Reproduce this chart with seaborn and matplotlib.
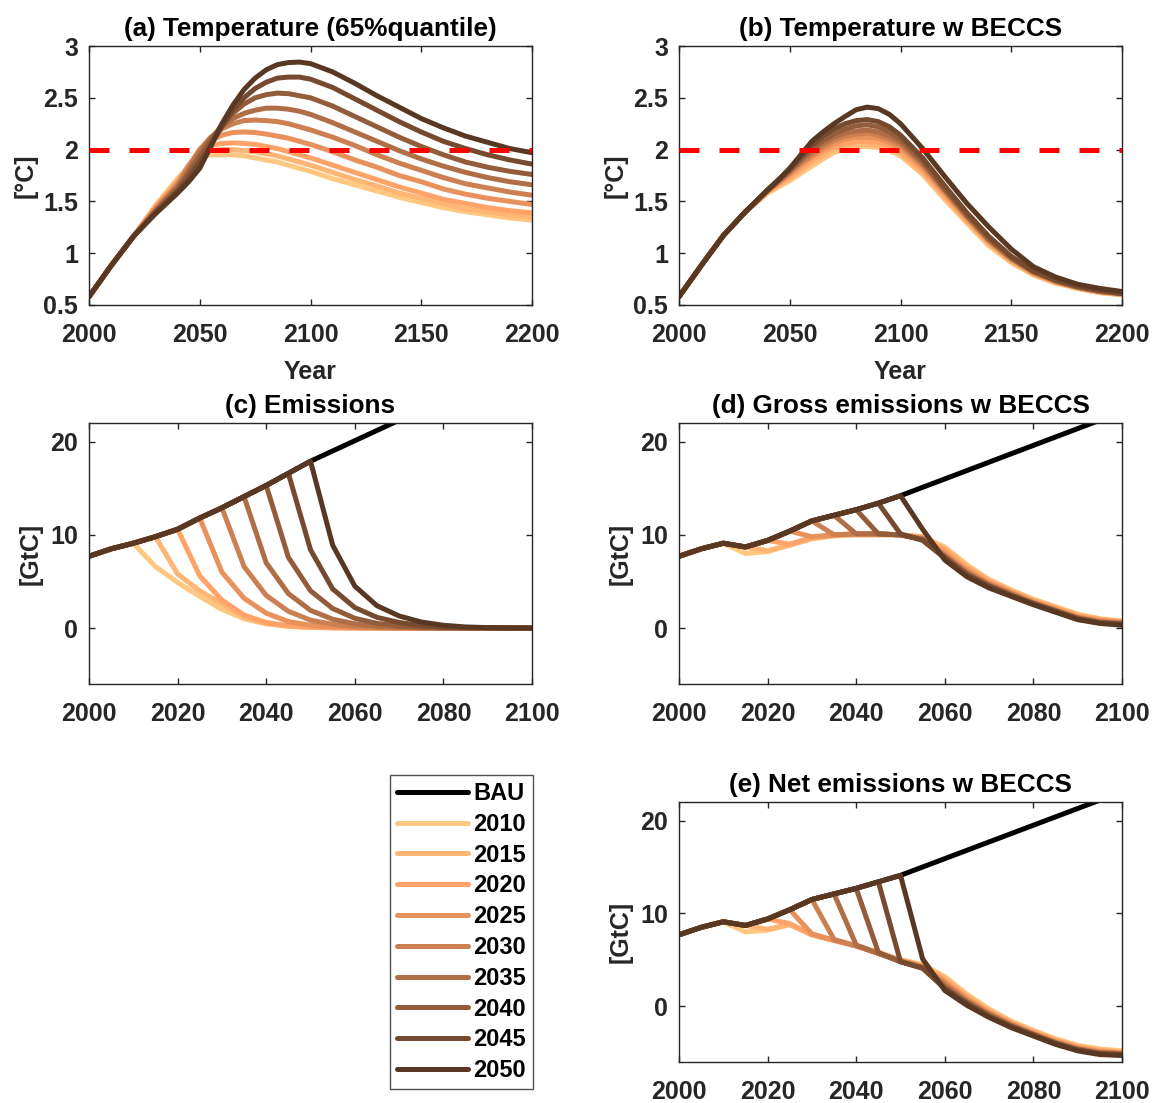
import numpy as np
import pandas as pd
import matplotlib
matplotlib.use("Agg")
import matplotlib.pyplot as plt
from matplotlib.lines import Line2D
import seaborn as sns

# ---------------- data ----------------
scenarios = ["2010", "2015", "2020", "2025", "2030", "2035", "2040", "2045", "2050"]
colors = ["#FFC77F", "#FFB573", "#FFA368", "#E9915D", "#CC8051",
          "#AF6E46", "#935C3A", "#764A2F", "#593823"]

years_T = [2000, 2010, 2020, 2030, 2040, 2045, 2050, 2055, 2060, 2065, 2070, 2075,
           2080, 2085, 2090, 2095, 2100, 2110, 2120, 2130, 2140, 2150, 2160, 2170,
           2180, 2190, 2200]

# (a) Temperature (65% quantile)
temp_a = {
    "2010": [0.58, 0.88, 1.16, 1.46, 1.72, 1.84, 1.93, 1.95, 1.95, 1.95, 1.94, 1.92, 1.90, 1.88, 1.85, 1.82, 1.79, 1.72, 1.66, 1.60, 1.54, 1.49, 1.44, 1.40, 1.37, 1.34, 1.32],
    "2015": [0.58, 0.88, 1.16, 1.45, 1.70, 1.84, 1.95, 1.99, 2.00, 2.00, 1.99, 1.98, 1.96, 1.94, 1.91, 1.88, 1.85, 1.78, 1.71, 1.65, 1.58, 1.53, 1.48, 1.43, 1.40, 1.37, 1.35],
    "2020": [0.58, 0.88, 1.16, 1.44, 1.69, 1.85, 1.98, 2.04, 2.06, 2.065, 2.06, 2.05, 2.03, 2.01, 1.98, 1.95, 1.92, 1.85, 1.78, 1.71, 1.64, 1.58, 1.52, 1.48, 1.44, 1.41, 1.39],
    "2025": [0.58, 0.88, 1.16, 1.43, 1.67, 1.84, 2.00, 2.09, 2.14, 2.165, 2.17, 2.165, 2.15, 2.13, 2.11, 2.08, 2.05, 1.98, 1.90, 1.83, 1.75, 1.69, 1.62, 1.57, 1.53, 1.50, 1.47],
    "2030": [0.58, 0.88, 1.16, 1.42, 1.66, 1.83, 2.00, 2.12, 2.20, 2.25, 2.28, 2.285, 2.28, 2.27, 2.25, 2.22, 2.19, 2.12, 2.04, 1.95, 1.87, 1.80, 1.73, 1.67, 1.63, 1.59, 1.56],
    "2035": [0.58, 0.88, 1.16, 1.41, 1.64, 1.80, 1.97, 2.11, 2.22, 2.30, 2.35, 2.38, 2.40, 2.40, 2.39, 2.37, 2.34, 2.26, 2.17, 2.08, 1.99, 1.91, 1.84, 1.78, 1.73, 1.69, 1.66],
    "2040": [0.58, 0.88, 1.16, 1.40, 1.62, 1.77, 1.93, 2.09, 2.24, 2.35, 2.44, 2.50, 2.53, 2.545, 2.54, 2.52, 2.50, 2.42, 2.32, 2.22, 2.12, 2.03, 1.95, 1.88, 1.83, 1.79, 1.76],
    "2045": [0.58, 0.88, 1.16, 1.39, 1.60, 1.73, 1.88, 2.05, 2.22, 2.38, 2.50, 2.59, 2.65, 2.69, 2.70, 2.70, 2.68, 2.60, 2.49, 2.38, 2.27, 2.17, 2.08, 2.01, 1.95, 1.90, 1.86],
    "2050": [0.58, 0.88, 1.16, 1.38, 1.58, 1.69, 1.82, 2.03, 2.25, 2.43, 2.58, 2.69, 2.77, 2.82, 2.84, 2.845, 2.83, 2.75, 2.64, 2.52, 2.41, 2.30, 2.21, 2.13, 2.07, 2.01, 1.97],
}

# (b) Temperature with BECCS
temp_b = {
    "2010": [0.58, 0.88, 1.17, 1.40, 1.58, 1.64, 1.70, 1.77, 1.84, 1.91, 1.97, 2.01, 2.03, 2.03, 2.02, 1.99, 1.94, 1.76, 1.52, 1.29, 1.07, 0.91, 0.79, 0.71, 0.66, 0.62, 0.60],
    "2015": [0.58, 0.88, 1.17, 1.40, 1.59, 1.66, 1.72, 1.80, 1.87, 1.94, 2.00, 2.04, 2.05, 2.05, 2.04, 2.01, 1.96, 1.78, 1.54, 1.31, 1.09, 0.92, 0.80, 0.72, 0.66, 0.62, 0.60],
    "2020": [0.58, 0.88, 1.17, 1.40, 1.59, 1.67, 1.74, 1.82, 1.90, 1.97, 2.03, 2.06, 2.08, 2.08, 2.07, 2.04, 1.99, 1.80, 1.56, 1.32, 1.10, 0.93, 0.80, 0.72, 0.67, 0.63, 0.60],
    "2025": [0.58, 0.88, 1.17, 1.40, 1.60, 1.68, 1.76, 1.85, 1.93, 2.00, 2.06, 2.10, 2.12, 2.12, 2.11, 2.07, 2.02, 1.83, 1.58, 1.34, 1.11, 0.94, 0.81, 0.73, 0.67, 0.63, 0.61],
    "2030": [0.58, 0.88, 1.17, 1.40, 1.60, 1.69, 1.78, 1.87, 1.95, 2.03, 2.09, 2.13, 2.15, 2.16, 2.14, 2.10, 2.05, 1.85, 1.60, 1.35, 1.12, 0.95, 0.82, 0.73, 0.67, 0.63, 0.61],
    "2035": [0.58, 0.88, 1.17, 1.40, 1.61, 1.70, 1.79, 1.89, 1.98, 2.06, 2.12, 2.16, 2.18, 2.19, 2.17, 2.13, 2.07, 1.87, 1.61, 1.36, 1.13, 0.95, 0.82, 0.73, 0.67, 0.63, 0.61],
    "2040": [0.58, 0.88, 1.17, 1.40, 1.61, 1.70, 1.80, 1.91, 2.01, 2.09, 2.15, 2.20, 2.23, 2.24, 2.22, 2.17, 2.10, 1.89, 1.62, 1.37, 1.14, 0.96, 0.82, 0.74, 0.68, 0.64, 0.61],
    "2045": [0.58, 0.88, 1.17, 1.40, 1.61, 1.71, 1.81, 1.93, 2.04, 2.13, 2.20, 2.25, 2.28, 2.29, 2.27, 2.22, 2.14, 1.92, 1.65, 1.39, 1.16, 0.97, 0.83, 0.74, 0.68, 0.64, 0.61],
    "2050": [0.58, 0.88, 1.17, 1.40, 1.61, 1.71, 1.82, 1.95, 2.08, 2.17, 2.25, 2.32, 2.385, 2.41, 2.395, 2.34, 2.25, 2.01, 1.74, 1.48, 1.25, 1.04, 0.87, 0.77, 0.70, 0.66, 0.63],
}

years_E = list(range(2000, 2101, 5))

# (c) Emissions: common trunk (2000-2050), BAU continuation, scenario branches
trunk_c = [7.7, 8.5, 9.1, 9.8, 10.6, 11.8, 12.9, 14.1, 15.3, 16.6, 17.9]
bau_c_tail = [19.0, 20.1, 21.2, 22.3, 23.4, 24.5, 25.6, 26.7, 27.8, 28.9]
branch_c = {
    "2010": [6.6, 4.9, 3.4, 2.0, 1.0, 0.45, 0.2, 0.08, 0.03, 0.01, 0, 0, 0, 0, 0, 0, 0, 0],
    "2015": [5.8, 4.0, 2.6, 1.2, 0.5, 0.2, 0.08, 0.03, 0.01, 0, 0, 0, 0, 0, 0, 0, 0],
    "2020": [5.6, 3.0, 1.4, 0.6, 0.25, 0.1, 0.04, 0.01, 0, 0, 0, 0, 0, 0, 0, 0],
    "2025": [6.0, 3.2, 1.6, 0.7, 0.3, 0.12, 0.05, 0.02, 0, 0, 0, 0, 0, 0, 0],
    "2030": [6.6, 3.5, 1.8, 0.85, 0.4, 0.16, 0.06, 0.02, 0, 0, 0, 0, 0, 0],
    "2035": [7.0, 3.7, 1.9, 0.95, 0.45, 0.2, 0.08, 0.03, 0.01, 0, 0, 0, 0],
    "2040": [7.6, 4.0, 2.1, 1.05, 0.5, 0.22, 0.09, 0.03, 0.01, 0, 0, 0],
    "2045": [8.4, 4.2, 2.2, 1.15, 0.6, 0.27, 0.11, 0.04, 0.01, 0, 0],
    "2050": [8.9, 4.5, 2.4, 1.3, 0.65, 0.3, 0.12, 0.05, 0.02, 0],
}

# (d) Gross emissions with BECCS
trunk_d = [7.7, 8.5, 9.1, 8.7, 9.4, 10.4, 11.5, 12.1, 12.7, 13.4, 14.2]
bau_d_tail = [15.1, 16.0, 16.9, 17.8, 18.7, 19.6, 20.5, 21.4, 22.3, 23.2]
branch_d = {
    "2010": [8.0, 8.2, 8.9, 9.6, 9.9, 10.0, 10.0, 10.0, 9.8, 8.7, 6.8, 5.2, 4.1, 3.1, 2.3, 1.5, 1.0, 0.75],
    "2015": [8.3, 8.9, 9.6, 9.9, 10.0, 10.0, 10.0, 9.8, 8.5, 6.6, 5.1, 4.0, 3.0, 2.2, 1.4, 0.95, 0.7],
    "2020": [9.0, 9.7, 10.0, 10.1, 10.1, 10.0, 9.7, 8.3, 6.4, 5.0, 3.9, 2.9, 2.1, 1.3, 0.9, 0.65],
    "2025": [9.8, 10.0, 10.1, 10.1, 10.0, 9.6, 8.0, 6.2, 4.8, 3.8, 2.8, 2.0, 1.2, 0.8, 0.6],
    "2030": [10.0, 10.1, 10.1, 10.0, 9.6, 7.8, 6.0, 4.7, 3.7, 2.7, 1.9, 1.1, 0.7, 0.55],
    "2035": [10.1, 10.1, 10.0, 9.5, 7.7, 5.9, 4.6, 3.6, 2.7, 1.9, 1.1, 0.65, 0.5],
    "2040": [10.1, 10.0, 9.5, 7.6, 5.8, 4.5, 3.5, 2.6, 1.8, 1.0, 0.6, 0.45],
    "2045": [10.1, 9.4, 7.5, 5.7, 4.5, 3.5, 2.6, 1.8, 1.0, 0.55, 0.4],
    "2050": [10.6, 7.3, 5.5, 4.3, 3.4, 2.5, 1.7, 0.9, 0.5, 0.3],
}

# (e) Net emissions with BECCS
trunk_e = [7.7, 8.5, 9.1, 8.7, 9.4, 10.4, 11.5, 12.1, 12.7, 13.4, 14.1]
bau_e_tail = [15.0, 15.9, 16.8, 17.7, 18.6, 19.5, 20.4, 21.3, 22.2, 23.1]
branch_e = {
    "2010": [8.0, 8.2, 8.8, 7.7, 7.1, 6.5, 5.8, 5.0, 4.5, 3.2, 1.3, -0.3, -1.6, -2.6, -3.5, -4.2, -4.6, -4.8],
    "2015": [8.3, 8.8, 7.7, 7.1, 6.5, 5.8, 5.0, 4.4, 3.0, 1.1, -0.4, -1.7, -2.7, -3.6, -4.3, -4.7, -4.9],
    "2020": [8.9, 7.7, 7.1, 6.5, 5.7, 4.9, 4.3, 2.8, 0.9, -0.6, -1.8, -2.8, -3.7, -4.4, -4.8, -5.0],
    "2025": [7.8, 7.1, 6.5, 5.7, 4.9, 4.3, 2.6, 0.8, -0.7, -1.9, -2.9, -3.8, -4.5, -4.9, -5.0],
    "2030": [7.2, 6.5, 5.7, 4.9, 4.2, 2.4, 0.6, -0.8, -2.0, -3.0, -3.9, -4.6, -5.0, -5.1],
    "2035": [6.6, 5.7, 4.8, 4.2, 2.2, 0.5, -0.9, -2.1, -3.0, -3.9, -4.6, -5.0, -5.1],
    "2040": [5.8, 4.8, 4.1, 2.0, 0.4, -1.0, -2.1, -3.1, -4.0, -4.7, -5.1, -5.2],
    "2045": [4.8, 4.1, 1.9, 0.3, -1.1, -2.2, -3.1, -4.0, -4.7, -5.1, -5.2],
    "2050": [5.1, 1.7, 0.1, -1.2, -2.3, -3.2, -4.1, -4.8, -5.2, -5.3],
}

titles = ["(a) Temperature (65%quantile)", "(b) Temperature w BECCS",
          "(c) Emissions", "(d) Gross emissions w BECCS", "(e) Net emissions w BECCS"]

# ---------------- style ----------------
sns.set_style("ticks")
plt.rcParams.update({
    "font.family": ["Liberation Sans", "DejaVu Sans"],
    "font.weight": "bold",
    "axes.labelweight": "bold",
    "axes.titleweight": "bold",
    "xtick.direction": "in",
    "ytick.direction": "in",
    "xtick.top": True,
    "ytick.right": True,
    "axes.edgecolor": "#262626",
    "xtick.color": "#262626",
    "ytick.color": "#262626",
})

W, H = 1153, 1103
fig = plt.figure(figsize=(W / 100, H / 100), dpi=100)


def add_ax(l, t, r, b):
    return fig.add_axes([l / W, 1 - b / H, (r - l) / W, (b - t) / H])


ax_a = add_ax(89, 46, 532, 305)
ax_b = add_ax(679, 46, 1122, 305)
ax_c = add_ax(89, 423, 532, 684)
ax_d = add_ax(679, 423, 1122, 684)
ax_e = add_ax(679, 802, 1122, 1062)

LW = 3.6
FS = 18
TFS = 18.8


def long_temp(d):
    rows = []
    for s in scenarios:
        for y, v in zip(years_T, d[s]):
            rows.append((y, v, s))
    return pd.DataFrame(rows, columns=["year", "value", "scenario"])


def long_emis(trunk, branches):
    rows = []
    for k, s in enumerate(scenarios):
        cut = 2 + k  # index of the cutoff year in years_E
        vals = trunk[:cut + 1] + branches[s]
        for y, v in zip(years_E, vals):
            rows.append((y, v, s))
    return pd.DataFrame(rows, columns=["year", "value", "scenario"])


def style_ax(ax, title):
    ax.set_title(title, fontsize=TFS, fontweight="bold", pad=7, color="black")
    for sp in ax.spines.values():
        sp.set_visible(True)
        sp.set_linewidth(1.0)
        sp.set_color("#262626")
    ax.tick_params(axis="both", labelsize=FS, length=4, width=1.0)
    ax.tick_params(axis="x", pad=13)
    ax.tick_params(axis="y", pad=8)
    for lab in ax.get_xticklabels() + ax.get_yticklabels():
        lab.set_fontweight("bold")


# temperature panels
for ax, d, t in [(ax_a, temp_a, titles[0]), (ax_b, temp_b, titles[1])]:
    df = long_temp(d)
    sns.lineplot(data=df, x="year", y="value", hue="scenario", hue_order=scenarios,
                 palette=colors, linewidth=LW, legend=False, estimator=None,
                 sort=False, ax=ax)
    ax.axhline(2.0, color="red", linewidth=LW, linestyle=(0, (4, 4)), zorder=5)
    ax.set_xlim(2000, 2200)
    ax.set_ylim(0.5, 3)
    ax.set_xticks([2000, 2050, 2100, 2150, 2200])
    ax.set_yticks([0.5, 1, 1.5, 2, 2.5, 3])
    ax.set_yticklabels(["0.5", "1", "1.5", "2", "2.5", "3"])
    ax.set_xlabel("Year", fontsize=FS, fontweight="bold", labelpad=9)
    ax.set_ylabel("[°C]", fontsize=FS, fontweight="bold", labelpad=4)
    style_ax(ax, t)

# emission panels
for ax, trunk, tail, br, t in [(ax_c, trunk_c, bau_c_tail, branch_c, titles[2]),
                               (ax_d, trunk_d, bau_d_tail, branch_d, titles[3]),
                               (ax_e, trunk_e, bau_e_tail, branch_e, titles[4])]:
    bau = pd.DataFrame({"year": years_E, "value": trunk + tail})
    sns.lineplot(data=bau, x="year", y="value", color="black", linewidth=LW,
                 estimator=None, sort=False, ax=ax)
    df = long_emis(trunk, br)
    sns.lineplot(data=df, x="year", y="value", hue="scenario", hue_order=scenarios,
                 palette=colors, linewidth=LW, legend=False, estimator=None,
                 sort=False, ax=ax)
    ax.set_xlim(2000, 2100)
    ax.set_ylim(-6, 22)
    ax.set_xticks([2000, 2020, 2040, 2060, 2080, 2100])
    ax.set_yticks([0, 10, 20])
    ax.set_xlabel("")
    ax.set_ylabel("[GtC]", fontsize=FS, fontweight="bold", labelpad=5)
    style_ax(ax, t)

# legend
handles = [Line2D([0], [0], color="black", linewidth=LW)] + \
          [Line2D([0], [0], color=c, linewidth=LW) for c in colors]
labels = ["BAU"] + scenarios
leg = fig.legend(handles, labels, loc="upper left",
                 bbox_to_anchor=(390 / W, 1 - 775 / H),
                 prop={"family": "Liberation Sans", "weight": "bold", "size": 17},
                 frameon=True, fancybox=False, handlelength=3.0, handletextpad=0.22,
                 labelspacing=0.33, borderpad=0.3, borderaxespad=0.0,
                 labelcolor="black")
leg.get_frame().set_edgecolor("#262626")
leg.get_frame().set_linewidth(1.0)

fig.savefig("out.png", dpi=100)
